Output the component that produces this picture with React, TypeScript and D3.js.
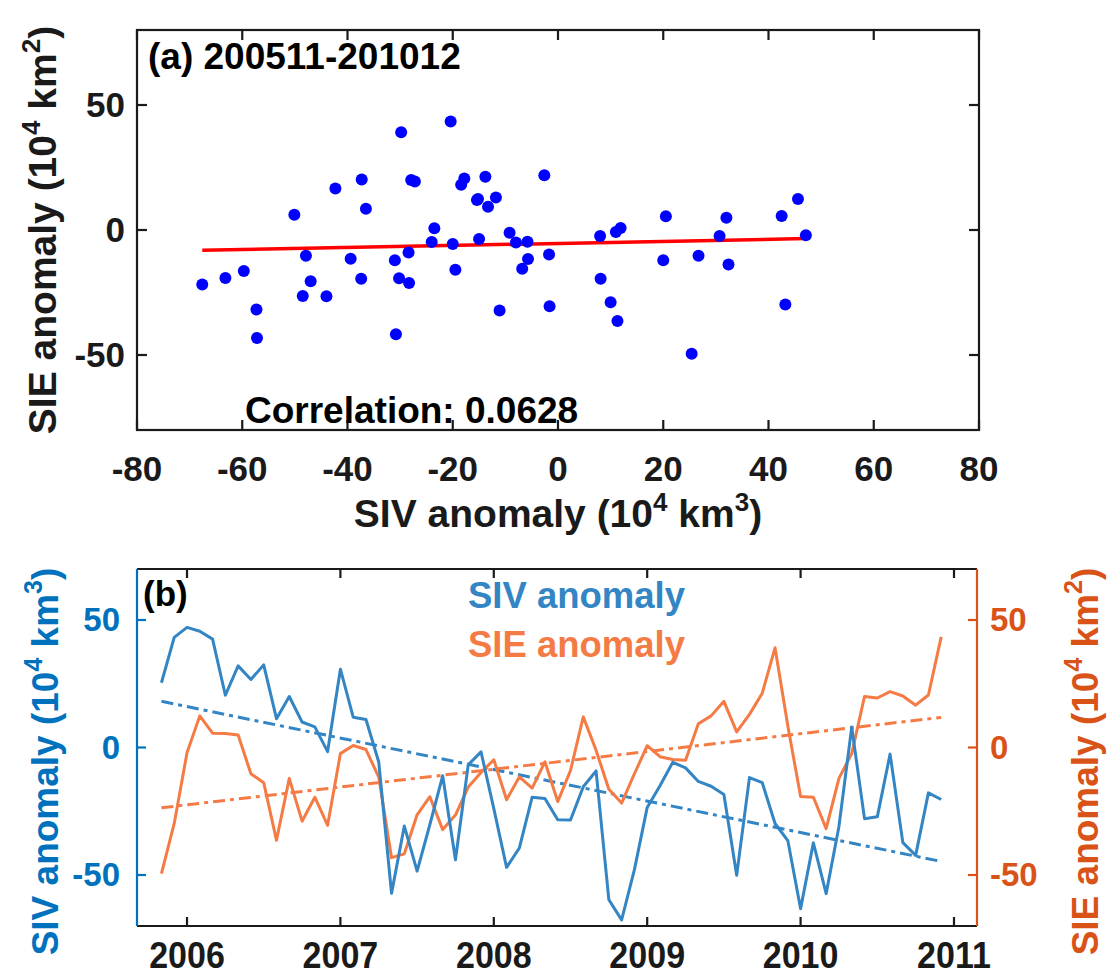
import React from 'react';
import * as d3 from 'd3';

// Monthly anomalies, Nov 2005 .. Dec 2010
const sivAnomaly = [
  25.4, 43.2, 47.1, 45.6, 42.5, 20.5, 32.0, 26.7, 32.4, 11.3,
  20.0, 10.0, 8.1, -1.6, 30.7, 11.9, 11.0, -5.7, -57.2, -30.8,
  -48.5, -30.2, -11.1, -44.0, -6.8, -1.7, -24.0, -47.0, -39.4, -19.5,
  -20.0, -28.3, -28.4, -15.4, -9.2, -59.7, -67.6, -47.9, -23.5, -15.0,
  -5.8, -8.0, -13.3, -15.2, -18.4, -50.1, -11.8, -13.8, -29.8, -36.5,
  -63.2, -37.4, -57.3, -31.0, 8.0, -27.9, -27.2, -2.6, -37.3, -42.3,
  -17.8, -20.4,
];
const sieAnomaly = [
  -49.5, -29.8, -2.1, 12.4, 5.6, 5.5, 4.9, -10.3, -13.8, -36.4,
  -12.1, -28.9, -19.5, -30.5, -2.4, 0.8, -0.8, -11.6, -43.2, -41.7,
  -26.4, -19.3, -32.2, -26.5, -15.5, -9.8, -4.8, -20.5, -11.5, -15.9,
  -5.6, -21.2, -9.0, 12.0, -1.1, -16.4, -21.8, -10.3, 0.7, -3.6,
  -4.7, -5.0, 9.3, 12.4, 18.1, 6.1, 13.0, 21.3, 39.1, 8.5,
  -19.2, -19.5, -31.8, -12.1, -2.4, 20.0, 19.4, 21.9, 20.2, 16.6,
  20.6, 43.4,
];
const firstYear = 2005;
const firstMonthIndex = 10; // November (0-based)

const xTicksA = [-80, -60, -40, -20, 0, 20, 40, 60, 80];
const yTicksA = [-50, 0, 50];
const yearTicks = [2006, 2007, 2008, 2009, 2010, 2011];
const yTicksB = [-50, 0, 50];
const titleA = '(a) 200511-201012';
const correlationText = 'Correlation: 0.0628';
const legendLabels = ['SIV anomaly', 'SIE anomaly'];

const FONT = '"Liberation Sans", Arial, Helvetica, sans-serif';
const INK = '#1a1a1a';
const SIV_LINE = '#3385c4';
const SIE_LINE = '#f57b45';
const LEFT_AXIS = '#0072bd';
const RIGHT_AXIS = '#d95319';

function linFit(xs: number[], ys: number[]) {
  const mx = d3.mean(xs) as number;
  const my = d3.mean(ys) as number;
  let sxy = 0, sxx = 0;
  for (let i = 0; i < xs.length; i++) {
    sxy += (xs[i] - mx) * (ys[i] - my);
    sxx += (xs[i] - mx) ** 2;
  }
  const b = sxy / sxx;
  return { a: my - b * mx, b };
}

function Label({ main, sup, fs, supFs }: { main: string; sup: [string, string]; fs: number; supFs: number }) {
  return (
    <>
      {main} (10
      <tspan fontSize={supFs} dy={-16}>{sup[0]}</tspan>
      <tspan fontSize={fs} dy={16}> km</tspan>
      <tspan fontSize={supFs} dy={-16}>{sup[1]}</tspan>
      <tspan fontSize={fs} dy={16}>)</tspan>
    </>
  );
}

export default function App() {
  // Panel (a)
  const xA = d3.scaleLinear().domain([-80, 80]).range([137, 979]);
  const yA = d3.scaleLinear().domain([-80, 80]).range([430, 30]);
  // Panel (b)
  const xB = d3.scaleLinear().domain([2005.674, 2011.15]).range([137, 977]);
  const yB = d3.scaleLinear().domain([-70, 70]).range([926, 569]);

  const times = sivAnomaly.map((_, i) => firstYear + (firstMonthIndex + i) / 12);

  const scatterFit = linFit(sivAnomaly, sieAnomaly);
  const sxMin = d3.min(sivAnomaly) as number;
  const sxMax = d3.max(sivAnomaly) as number;

  const sivFit = linFit(times, sivAnomaly);
  const sieFit = linFit(times, sieAnomaly);
  const t0 = times[0];
  const t1 = times[times.length - 1];

  const lineB = d3
    .line<[number, number]>()
    .x((d) => xB(d[0]))
    .y((d) => yB(d[1]));

  const sivPath = lineB(times.map((t, i) => [t, sivAnomaly[i]]));
  const siePath = lineB(times.map((t, i) => [t, sieAnomaly[i]]));
  const sivTrend = lineB([
    [t0, sivFit.a + sivFit.b * t0],
    [t1, sivFit.a + sivFit.b * t1],
  ]);
  const sieTrend = lineB([
    [t0, sieFit.a + sieFit.b * t0],
    [t1, sieFit.a + sieFit.b * t1],
  ]);

  const tick = 10;
  const tickB = 9;

  const [a0, a1] = xA.range();
  const [aB, aT] = yA.range();
  const [b0, b1] = xB.range();
  const [bB, bT] = yB.range();

  return (
    <svg
      width={1107}
      height={978}
      style={{ position: 'absolute', left: 0, top: 0, background: '#fff' }}
      fontFamily={FONT}
      fontWeight="bold"
    >
      <rect x={0} y={0} width={1107} height={978} fill="#fff" />

      {/* ================= Panel (a) ================= */}
      <g>
        <line
          x1={xA(sxMin)}
          y1={yA(scatterFit.a + scatterFit.b * sxMin)}
          x2={xA(sxMax)}
          y2={yA(scatterFit.a + scatterFit.b * sxMax)}
          stroke="#ff0000"
          strokeWidth={3.5}
        />
        {sivAnomaly.map((v, i) => (
          <circle key={i} cx={xA(v)} cy={yA(sieAnomaly[i])} r={6} fill="#0000ff" />
        ))}

        <rect x={a0} y={aT} width={a1 - a0} height={aB - aT} fill="none" stroke={INK} strokeWidth={2.2} />
        {xTicksA.map((t) => (
          <g key={t}>
            <line x1={xA(t)} x2={xA(t)} y1={aB} y2={aB - tick} stroke={INK} strokeWidth={2.2} />
            <line x1={xA(t)} x2={xA(t)} y1={aT} y2={aT + tick} stroke={INK} strokeWidth={2.2} />
            <text x={xA(t)} y={481} textAnchor="middle" fontSize={35} fill={INK}>
              {t}
            </text>
          </g>
        ))}
        {yTicksA.map((t) => (
          <g key={t}>
            <line x1={a0} x2={a0 + tick} y1={yA(t)} y2={yA(t)} stroke={INK} strokeWidth={2.2} />
            <line x1={a1} x2={a1 - tick} y1={yA(t)} y2={yA(t)} stroke={INK} strokeWidth={2.2} />
            <text x={125} y={yA(t) + 12} textAnchor="end" fontSize={35} fill={INK}>
              {t}
            </text>
          </g>
        ))}

        <text x={148} y={69} fontSize={37} fill="#000">
          {titleA}
        </text>
        <text x={245} y={423} fontSize={37} fill="#000">
          {correlationText}
        </text>

        <text x={(a0 + a1) / 2} y={527} textAnchor="middle" fontSize={39} fill={INK}>
          <Label main="SIV anomaly" sup={['4', '3']} fs={39} supFs={26} />
        </text>
        <text
          transform={`translate(56,${(aB + aT) / 2}) rotate(-90)`}
          textAnchor="middle"
          fontSize={39}
          fill={INK}
        >
          <Label main="SIE anomaly" sup={['4', '2']} fs={39} supFs={26} />
        </text>
      </g>

      {/* ================= Panel (b) ================= */}
      <g>
        <path d={sivTrend || ''} fill="none" stroke={SIV_LINE} strokeWidth={3} strokeDasharray="12,5,4,5" />
        <path d={sieTrend || ''} fill="none" stroke={SIE_LINE} strokeWidth={3} strokeDasharray="12,5,4,5" />
        <path d={siePath || ''} fill="none" stroke={SIE_LINE} strokeWidth={3} strokeLinejoin="round" />
        <path d={sivPath || ''} fill="none" stroke={SIV_LINE} strokeWidth={3} strokeLinejoin="round" />

        <line x1={b0} x2={b1} y1={bT} y2={bT} stroke={INK} strokeWidth={2.2} />
        <line x1={b0} x2={b1} y1={bB} y2={bB} stroke={INK} strokeWidth={2.2} />
        <line x1={b0} x2={b0} y1={bT} y2={bB} stroke={LEFT_AXIS} strokeWidth={2.2} />
        <line x1={b1} x2={b1} y1={bT} y2={bB} stroke={RIGHT_AXIS} strokeWidth={2.2} />

        {yearTicks.map((yr) => (
          <g key={yr}>
            <line x1={xB(yr)} x2={xB(yr)} y1={bB} y2={bB - tickB} stroke={INK} strokeWidth={2.2} />
            <line x1={xB(yr)} x2={xB(yr)} y1={bT} y2={bT + tickB} stroke={INK} strokeWidth={2.2} />
            <text
              transform={`translate(${xB(yr)},968) scale(0.92,1)`}
              textAnchor="middle"
              fontSize={37}
              fill={INK}
            >
              {yr}
            </text>
          </g>
        ))}
        {yTicksB.map((t) => (
          <g key={t}>
            <line x1={b0} x2={b0 + tickB} y1={yB(t)} y2={yB(t)} stroke={LEFT_AXIS} strokeWidth={2.2} />
            <text x={120} y={yB(t) + 11} textAnchor="end" fontSize={33} fill={LEFT_AXIS}>
              {t}
            </text>
            <line x1={b1} x2={b1 - tickB} y1={yB(t)} y2={yB(t)} stroke={RIGHT_AXIS} strokeWidth={2.2} />
            <text x={990} y={yB(t) + 11} textAnchor="start" fontSize={33} fill={RIGHT_AXIS}>
              {t}
            </text>
          </g>
        ))}

        <text x={143} y={606} fontSize={35} fill="#000">
          (b)
        </text>
        <text x={468} y={608} fontSize={36.5} fill={SIV_LINE}>
          {legendLabels[0]}
        </text>
        <text x={468} y={657} fontSize={36.5} fill={SIE_LINE}>
          {legendLabels[1]}
        </text>

        <text
          transform={`translate(58,${(bB + bT) / 2 + 14}) rotate(-90)`}
          textAnchor="middle"
          fontSize={37}
          fill={LEFT_AXIS}
        >
          <Label main="SIV anomaly" sup={['4', '3']} fs={37} supFs={25} />
        </text>
        <text
          transform={`translate(1098,${(bB + bT) / 2 + 14}) rotate(-90)`}
          textAnchor="middle"
          fontSize={37}
          fill={RIGHT_AXIS}
        >
          <Label main="SIE anomaly" sup={['4', '2']} fs={37} supFs={25} />
        </text>
      </g>
    </svg>
  );
}
